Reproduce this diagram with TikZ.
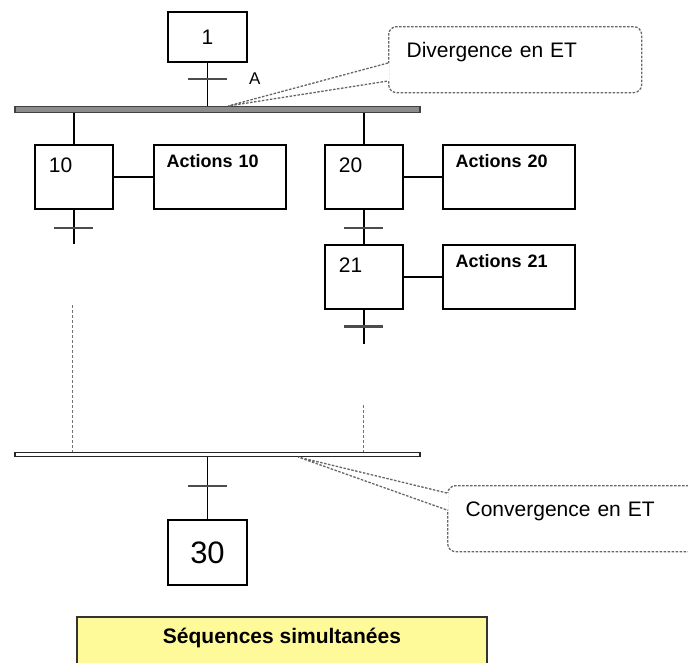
\documentclass[tikz,border=0pt]{standalone}
\usepackage{fontspec}
\setmainfont{Liberation Sans}
\usepackage{tikz}
\usetikzlibrary{positioning,calc}
\newcommand{\pxfont}[1]{\fontsize{#1}{#1}\selectfont}
\tikzset{
  stepbox/.style={
    draw,
    line width=1.8pt,
    fill=white,
    inner sep=0pt,
    minimum width=79pt,
    minimum height=50pt,
    font=\pxfont{21}
  },
  stepcorner/.style={
    draw,
    line width=1.8pt,
    fill=white,
    inner xsep=14pt,
    inner ysep=0pt,
    text width=50pt,
    align=left,
    text height=28pt,
    text depth=36pt,
    font=\pxfont{21}
  },
  actbox/.style={
    draw,
    line width=1.8pt,
    fill=white,
    inner xsep=13pt,
    inner ysep=0pt,
    text width=106pt,
    align=left,
    text height=23pt,
    text depth=41pt,
    font=\bfseries\pxfont{18}
  },
  note/.style={
    draw=black!60,
    line width=1.3pt,
    dash pattern=on 2.5pt off 1.5pt,
    rounded corners=8pt,
    fill=white,
    inner xsep=18pt,
    inner ysep=0pt,
    text width=217pt,
    align=left,
    text height=31pt,
    text depth=35pt,
    font=\pxfont{21}
  },
  titlebox/.style={
    draw=black!80,
    line width=1.8pt,
    fill=yellow!40,
    anchor=north,
    inner sep=0pt,
    minimum width=410pt,
    text height=27pt,
    text depth=30pt,
    font=\bfseries\pxfont{21}
  },
  trans/.style={fill=black!70, minimum width=39pt, minimum height=2.5pt, inner sep=0pt},
  divbar/.style={draw=black!75, fill=black!45, line width=1.2pt, minimum width=405pt, minimum height=5.5pt, inner sep=0pt},
  convbar/.style={draw=black!85, fill=white, line width=1.3pt, minimum width=405pt, minimum height=3.5pt, inner sep=0pt},
  link/.style={line width=1.8pt},
  guide/.style={black!55, line width=0.9pt, dash pattern=on 3pt off 2pt},
  pointer/.style={black!60, line width=1.3pt, dash pattern=on 2.5pt off 1.5pt}
}

\begin{document}
\begin{tikzpicture}[x=1pt,y=-1pt]
  \useasboundingbox (0,0) rectangle (688,662);
  \clip (0,0) rectangle (688,662);
  \node[stepbox] (s1) at (207.5,37) {1};
  \node[font=\pxfont{17}, anchor=west, inner sep=0pt] (lblA) at (249,79) {A};
  \node[divbar] (divbar) at (217.5,109.5) {};
  \node[stepcorner, anchor=north west] (s10) at (34,144) {10};
  \node[actbox, right=39pt of s10] (a10) {Actions 10};
  \node[stepcorner, anchor=north west] (s20) at (324,144) {20};
  \node[actbox, right=38pt of s20] (a20) {Actions 20};
  \node[stepcorner, below=34pt of s20] (s21) {21};
  \node[actbox, right=38pt of s21] (a21) {Actions 21};
  \node[convbar] (convbar) at (217.5,454.5) {};
  \node[stepbox, minimum height=65pt, font=\pxfont{31}] (s30) at (207.5,552.5) {30};
  \node[note, anchor=north west] (divnote) at (388,26) {Divergence en ET};
  \node[note, anchor=north west] (convnote) at (447,485) {Convergence en ET};
  \node[titlebox] (seqbox) at (282,616) {Séquences simultanées};

  \draw[link] (s1.south) -- (s1.south |- divbar.north);
  \draw[link] (divbar.south -| s10.north) -- (s10.north);
  \draw[link] (divbar.south -| s20.north) -- (s20.north);
  \draw[link] (s10.south) -- ++(0,34) coordinate (e10);
  \draw[link] (s20.south) -- (s21.north);
  \draw[link] (s21.south) -- ++(0,34) coordinate (e21);
  \draw[link] (s10.east) -- (a10.west);
  \draw[link] (s20.east) -- (a20.west);
  \draw[link] (s21.east) -- (a21.west);
  \draw[link] (convbar.south -| s30.north) -- (s30.north);

  \node[trans] (t1) at ($(s1.south)+(0,16)$) {};
  \node[trans] (t10) at ($(s10.south)+(0,18)$) {};
  \node[trans] (t20) at ($(s20.south)+(0,18)$) {};
  \node[trans] (t21) at ($(s21.south)+(0,17)$) {};
  \node[trans] (t30) at ($(s30.north)+(0,-33)$) {};

  \coordinate (w10) at (72.5,305);
  \coordinate (w21) at (363,405);
  \draw[guide] (w10) -- (w10 |- convbar.north);
  \draw[guide] (w21) -- (w21 |- convbar.north);

  \coordinate (divtip) at (228,106);
  \fill[white] ($(divnote.north west)+(1.5,37)$) -- (divtip) -- ($(divnote.north west)+(1.5,55)$) -- cycle;
  \draw[pointer] ($(divnote.north west)+(0,37)$) -- (divtip) -- ($(divnote.north west)+(0,55)$);
  \coordinate (convtip) at (298,457);
  \fill[white] ($(convnote.north west)+(1.5,8)$) -- (convtip) -- ($(convnote.north west)+(1.5,25)$) -- cycle;
  \draw[pointer] ($(convnote.north west)+(0,8)$) -- (convtip) -- ($(convnote.north west)+(0,25)$);
\end{tikzpicture}
\end{document}
